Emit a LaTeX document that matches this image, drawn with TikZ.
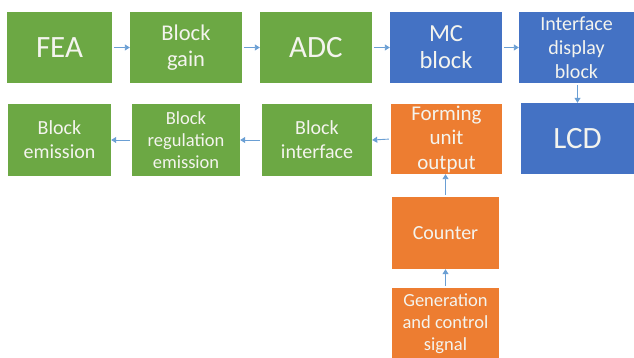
\documentclass[tikz,border=0pt]{standalone}
\usepackage{fontspec}
\setmainfont{Carlito}
\usetikzlibrary{arrows.meta}
\definecolor{gr}{HTML}{6CA844}
\definecolor{bl}{HTML}{4472C4}
\definecolor{orng}{HTML}{ED7D31}
\definecolor{arr}{HTML}{6A9FD4}
\definecolor{txt}{HTML}{F4F4EE}
\begin{document}
\begin{tikzpicture}[x=1pt,y=-1pt,
  box/.style={draw=none,inner sep=0pt,align=center,text=txt},
  big/.style={font=\fontsize{31}{34}\selectfont},
  mid/.style={font=\fontsize{22.5}{26}\selectfont},
  sml/.style={font=\fontsize{20}{24}\selectfont},
  tiny/.style={font=\fontsize{18.5}{22}\selectfont},
  con/.style={draw=arr,line width=0.9pt,-{Triangle[width=6pt,length=5pt]},shorten <=2pt}]
\useasboundingbox[fill=white] (0,0) rectangle (634,358);
% row 1
\node[box,big,fill=gr,minimum width=105pt,minimum height=71pt] (fea) at (59.5,47.5) {FEA};
\node[box,mid,fill=gr,minimum width=112pt,minimum height=71pt] (gain) at (186,47.5) {Block\\gain};
\node[box,big,fill=gr,minimum width=112pt,minimum height=71pt] (adc) at (316,47.5) {ADC};
\node[box,font=\fontsize{24.5}{27}\selectfont,fill=bl,minimum width=112pt,minimum height=71pt] (mc) at (446,47.5) {MC\\block};
\node[box,sml,fill=bl,minimum width=115pt,minimum height=71pt] (idb) at (576.5,47.5) {Interface\\display\\block};
% row 2
\node[box,sml,fill=gr,minimum width=103pt,minimum height=72pt] (emi) at (59.5,140) {Block\\emission};
\node[box,tiny,fill=gr,minimum width=108pt,minimum height=72pt] (reg) at (186,140) {Block\\regulation\\emission};
\node[box,sml,fill=gr,minimum width=110pt,minimum height=72pt] (bif) at (317,140) {Block\\interface};
\node[box,font=\fontsize{21}{24.5}\selectfont,fill=orng,minimum width=111pt,minimum height=70pt] (form) at (446.5,139) {Forming\\unit\\output};
\node[box,big,fill=bl,minimum width=113pt,minimum height=71pt] (lcd) at (577.5,138.5) {LCD};
% column
\node[box,sml,fill=orng,minimum width=107pt,minimum height=72pt] (cnt) at (445.5,233) {Counter};
\node[box,tiny,fill=orng,minimum width=107pt,minimum height=72pt] (gen) at (445.5,324) {Generation\\and control\\signal};
% connectors
\draw[con] (fea) -- (gain);
\draw[con] (gain) -- (adc);
\draw[con] (adc) -- (mc);
\draw[con] (mc) -- (idb);
\draw[con] (idb.south -| lcd.north) -- (lcd.north);
\draw[con] (form.west) -- (bif.east);
\draw[con] (bif) -- (reg);
\draw[con] (reg) -- (emi);
\draw[con] (cnt.north) -- (cnt.north |- form.south);
\draw[con] (gen.north) -- (gen.north |- cnt.south);
\end{tikzpicture}
\end{document}
